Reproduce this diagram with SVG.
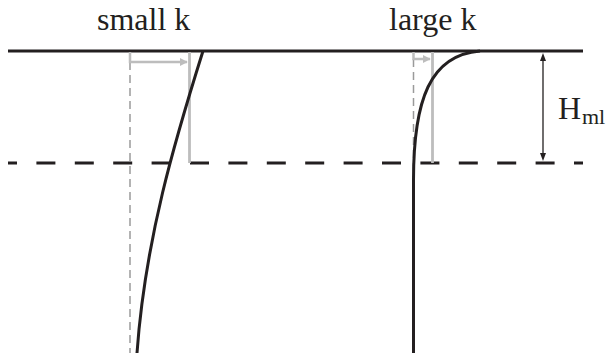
<svg xmlns="http://www.w3.org/2000/svg" width="612" height="353" viewBox="0 0 612 353">
<style>
.lbl{font-family:"Liberation Serif","DejaVu Serif",serif;fill:#231f20}
.blk{stroke:#231f20;stroke-width:3;fill:none}
.gdash{stroke:#9a9a9a;stroke-width:1.5;fill:none;stroke-dasharray:8 5}
.gray{stroke:#bdbdbd;stroke-width:2.8;fill:none}
.garr{stroke:#bdbdbd;stroke-width:2.5;fill:none;marker-end:url(#ga)}
</style>
<defs>
<marker id="ga" viewBox="0 0 10 10" refX="9" refY="5" markerWidth="3.2" markerHeight="3.2" orient="auto" markerUnits="strokeWidth">
<path d="M0,0 L10,5 L0,10 z" fill="#bdbdbd"/>
</marker>
</defs>
<g id="surface"><line class="blk" x1="8" y1="51" x2="583" y2="51"/></g>
<g id="ml-base"><line class="blk" x1="8" y1="163" x2="583" y2="163" stroke-dasharray="19 19.4" stroke-dashoffset="10"/></g>
<g id="small-k">
<text class="lbl" x="97" y="30" font-size="32">small k</text>
<line class="gdash" x1="130" y1="62" x2="130" y2="353"/>
<path class="garr" d="M130,52 V62 H187"/>
<line class="gray" x1="189.5" y1="52" x2="189.5" y2="163"/>
<path class="blk" d="M203,51 C175,140 145,240 137,353"/>
</g>
<g id="large-k">
<text class="lbl" x="389" y="30" font-size="32">large k</text>
<line class="gdash" x1="413.5" y1="59" x2="413.5" y2="353"/>
<path class="garr" d="M413.5,52 V59 H430"/>
<line class="gray" x1="432.5" y1="52" x2="432.5" y2="163"/>
<path class="blk" d="M413.5,353 L413.5,180 C413.5,100 430,55 480,51"/>
</g>
<g id="connectors">
<line x1="543" y1="58" x2="543" y2="156" stroke="#231f20" stroke-width="1.3"/>
<path d="M543,53 L540,61 L546,61 z" fill="#231f20"/>
<path d="M543,161 L540,153 L546,153 z" fill="#231f20"/>
</g>
<g id="hml">
<text class="lbl" x="558" y="119" font-size="32">H</text>
<text class="lbl" x="582" y="124" font-size="22">ml</text>
</g>
</svg>
